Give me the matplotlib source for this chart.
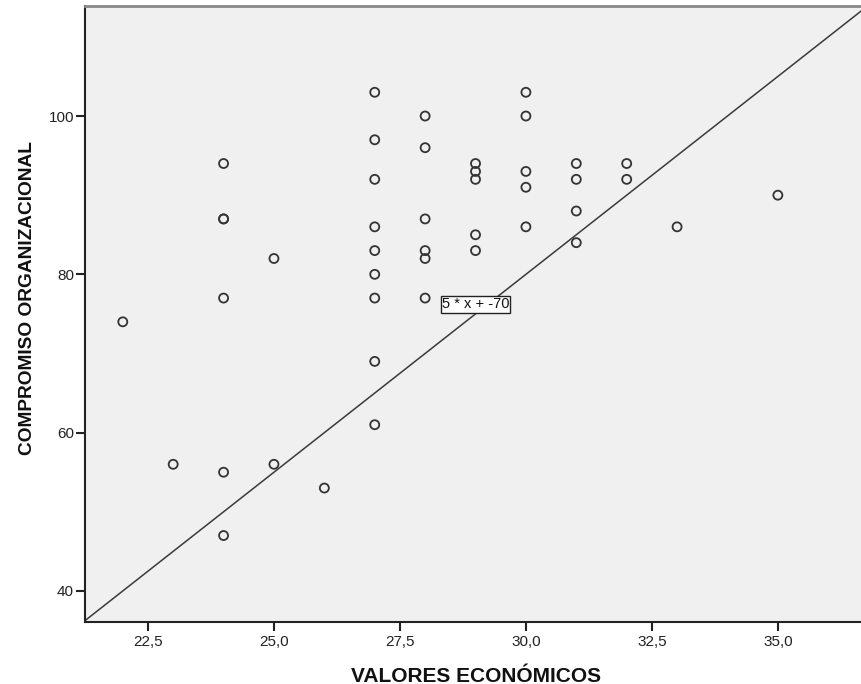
import matplotlib
matplotlib.use("Agg")
import matplotlib.pyplot as plt
import numpy as np

# Valores económicos (x) y compromiso organizacional (y) por caso
valores_economicos = [22, 23,
                      24, 24, 24, 24, 24, 24,
                      25, 25, 26,
                      27, 27, 27, 27, 27, 27, 27, 27, 27,
                      28, 28, 28, 28, 28, 28,
                      29, 29, 29, 29, 29,
                      30, 30, 30, 30, 30,
                      31, 31, 31, 31,
                      32, 32, 33, 35]
compromiso = [74, 56,
              94, 87, 87, 77, 55, 47,
              82, 56, 53,
              103, 97, 92, 86, 83, 80, 77, 69, 61,
              100, 96, 87, 83, 82, 77,
              94, 93, 92, 85, 83,
              103, 100, 93, 91, 86,
              94, 92, 88, 84,
              94, 92, 86, 90]

# Reference line y = 5 * x + -70
slope = 5
intercept = -70

x_ticks = [22.5, 25.0, 27.5, 30.0, 32.5, 35.0]
y_ticks = [40, 60, 80, 100]
x_lim = (21.25, 36.65)
y_lim = (36.14, 113.9)

plt.rcParams['font.family'] = ['Liberation Sans', 'DejaVu Sans']

W, H = 861, 684
fig = plt.figure(figsize=(W / 100, H / 100), dpi=100)
ax = fig.add_axes([85 / W, 1 - 621.5 / H, 1 - 85 / W, (621.5 - 6) / H])
ax.set_facecolor('#F0F0F0')

ax.scatter(valores_economicos, compromiso, s=42, facecolors='none',
           edgecolors='#333333', linewidths=1.3, zorder=3)

xs = np.array(x_lim)
ax.plot(xs, slope * xs + intercept, color='#3a3a3a', linewidth=1.1, zorder=2)

ax.text(29.0, 76.2, f"{slope} * x + {intercept}", ha='center', va='center',
        fontsize=10.5, color='#111111', zorder=4,
        bbox=dict(boxstyle='square,pad=0.08', facecolor='white',
                  edgecolor='#222222', linewidth=1.0))

ax.set_xlim(*x_lim)
ax.set_ylim(*y_lim)
ax.set_xticks(x_ticks)
ax.set_xticklabels([f"{v:.1f}".replace('.', ',') for v in x_ticks])
ax.set_yticks(y_ticks)
ax.set_yticklabels([str(v) for v in y_ticks])
ax.tick_params(axis='both', direction='out', length=6.5, width=1.5,
               color='#222222', labelsize=11, labelcolor='#222222')
ax.tick_params(axis='x', pad=3)
ax.tick_params(axis='y', pad=1.5)

for side in ['left', 'bottom']:
    ax.spines[side].set_color('#222222')
    ax.spines[side].set_linewidth(1.5)
ax.spines['right'].set_visible(False)
ax.spines['top'].set_color('#888888')
ax.spines['top'].set_linewidth(2.0)

# Axis titles placed in figure pixels
fig.text(476 / W, 1 - 681.5 / H, 'VALORES ECONÓMICOS', ha='center',
         va='baseline', fontsize=15, fontweight='bold', color='#111111')
fig.text(32.3 / W, 1 - 298 / H, 'COMPROMISO ORGANIZACIONAL', ha='center',
         va='baseline', rotation=90, rotation_mode='anchor',
         fontsize=13.8, fontweight='bold', color='#111111')

fig.savefig('out.png', dpi=100)
